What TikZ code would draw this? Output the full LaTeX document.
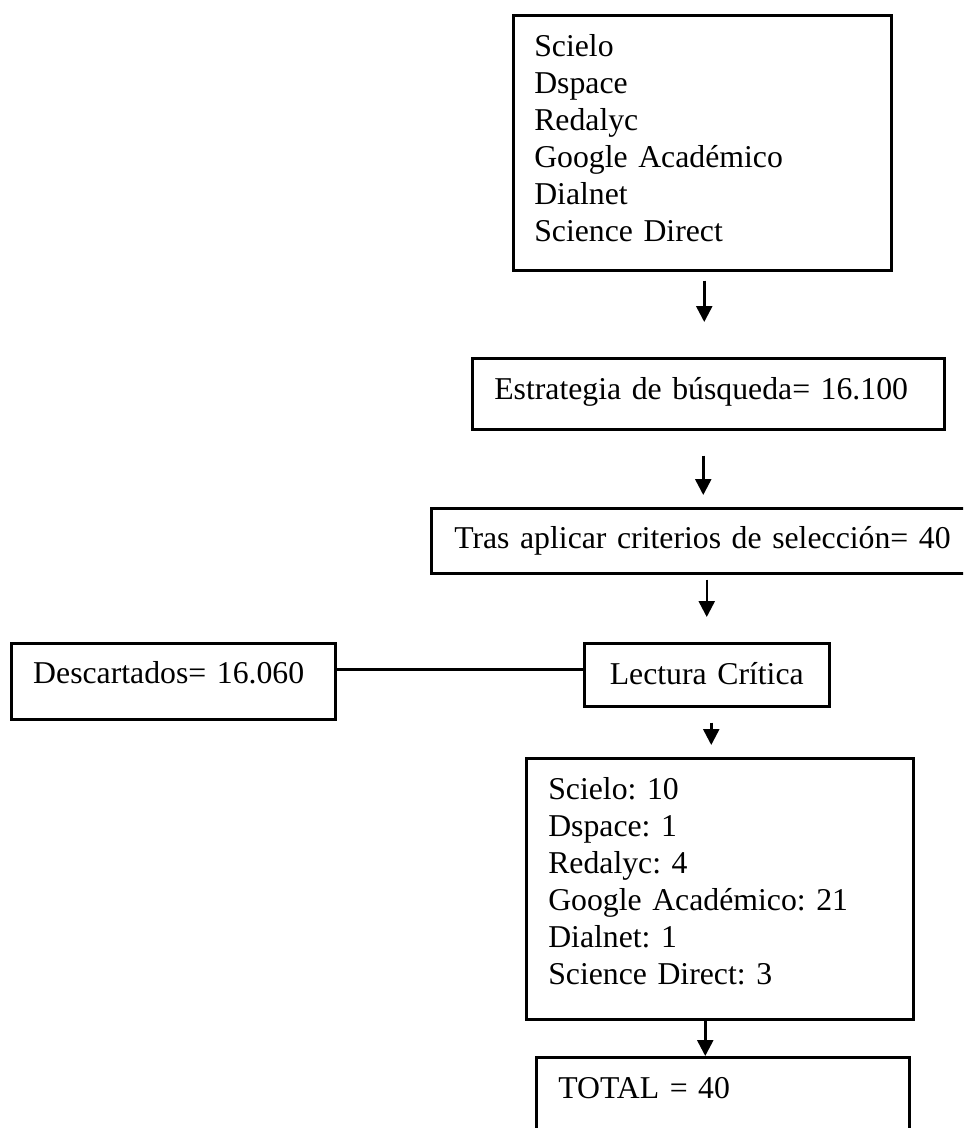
\documentclass[tikz,border=0pt]{standalone}
\usepackage{fontspec}
\setmainfont{Liberation Serif}
\usetikzlibrary{arrows.meta}
\frenchspacing

\begin{document}
\begin{tikzpicture}[
    x = 0.4pt, y = -0.4pt,
    %
    box/.style = {draw,
      line width = 1pt,
      anchor = north west,
      inner ysep = 0pt,
      inner xsep = 8.8pt,
      align = left,
      font = \fontsize{12.7}{14.8}\selectfont},
    %
    flow/.style = {-{Triangle[length = 6.4pt, width = 6.4pt]},
      line width = 1pt},
    link/.style = {line width = 1.3pt},
    ]

    \clip (0, 0) rectangle (963, 1128);

    \node at (512, 14)
    [box, name = src, inner xsep = 8.4pt, text width = 134.4pt,
      text height = 16.4pt, text depth = 85.6pt]
    {Scielo\\ Dspace\\ Redalyc\\ Google Académico\\ Dialnet\\ Science Direct};

    \node at (471, 357)
    [box, name = strat, text width = 171.2pt,
      text height = 16.4pt, text depth = 12pt]
    {Estrategia de búsqueda= 16.100};

    \node at (430, 507)
    [box, name = sel, inner xsep = 9.2pt, text width = 199.6pt,
      text height = 16pt, text depth = 10pt]
    {Tras aplicar criterios de selección= 40};

    \node at (10, 642)
    [box, name = disc, text width = 112pt,
      text height = 16pt, text depth = 14.4pt]
    {Descartados= 16.060};
    \node at (583, 642)
    [box, name = lect, align = center, inner xsep = 4pt, text width = 90pt,
      text height = 16.4pt, text depth = 8.8pt]
    {Lectura Crítica};

    \node at (525, 757)
    [box, name = res, text width = 137.2pt,
      text height = 16.4pt, text depth = 88pt]
    {Scielo: 10\\ Dspace: 1\\ Redalyc: 4\\ Google Académico: 21\\
      Dialnet: 1\\ Science Direct: 3};

    \node at (535, 1056)
    [box, name = total, text width = 131.6pt,
      text height = 16.4pt, text depth = 23.6pt]
    {TOTAL = 40};

    \draw [flow, shorten <= 3.6pt, shorten >= 14pt]
    ([xshift = 0.8pt]src.south) -- ([xshift = 0.8pt]src.south |- strat.north);
    \draw [flow, shorten <= 10pt, shorten >= 4.8pt]
    ([xshift = -2pt]strat.south) -- ([xshift = -2pt]strat.south |- sel.north);
    \draw [flow, shorten <= 2pt, shorten >= 10pt]
    (lect.north |- sel.south) -- (lect.north);
    \draw [flow, shorten <= 6pt, shorten >= 4.8pt]
    ([xshift = 1.8pt]lect.south) -- ([xshift = 1.8pt]lect.south |- res.north);
    \draw [flow]
    ([xshift = -5.8pt]res.south) -- ([xshift = -5.8pt]res.south |- total.north);

    \draw [link] ([yshift = 2.2pt]lect.west) -- ([yshift = 2.2pt]lect.west -| disc.east);

  \end{tikzpicture}
\end{document}
